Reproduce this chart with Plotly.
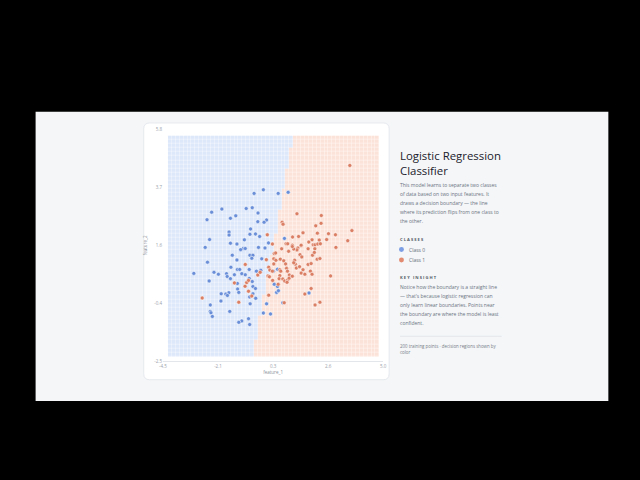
import numpy as np
import plotly.graph_objects as go

# ---------------- data ----------------
class0_x = [-0.17, -0.57, 0.47, 0.90, -1.96, -2.40, -0.91, -0.65, -0.40, -1.36, -1.59, -2.60, -0.03, -0.41,
            -0.14, -0.72, -1.65, -1.65, -0.75, -0.51, -0.33, -2.49, -0.99, -1.59, -1.31, 0.74, -2.68, -0.38,
            -0.10, -1.04, -0.95, -1.15, 0.05, -1.51, -1.31, -0.75, -0.62, -0.67, -0.24, -2.58, -1.57, -1.29,
            -1.19, -0.78, -0.47, -0.28, 0.44, -3.17, -2.30, -2.11, -1.76, -1.73, -1.42, -1.10, -0.95, 0.26,
            -2.51, -1.59, -0.78, -0.65, -1.29, -0.62, -0.51, 0.44, 0.30, -1.28, -1.66, -1.23, -1.99, -1.79,
            -1.72, -0.62, -0.76, 0.40, 0.48, -0.50, 1.80, -2.00, -2.46, -0.74, -0.03, 0.67, -2.46, -2.43,
            -2.37, -1.62, -0.17, 0.14, -0.81, -1.10, -1.23, -0.76]
class0_y = [3.64, 3.51, 3.51, 3.55, 2.95, 2.84, 2.97, 3.00, 2.81, 2.71, 2.62, 2.57, 2.56, 2.50,
            2.48, 2.24, 2.13, 2.02, 2.05, 2.06, 1.97, 1.86, 1.85, 1.73, 1.70, 1.90, 1.58, 1.58,
            1.56, 1.54, 1.54, 1.50, 1.74, 1.30, 1.13, 1.30, 1.30, 1.19, 1.17, 1.05, 0.87, 0.79,
            0.79, 0.79, 0.73, 0.76, 0.80, 0.65, 0.69, 0.62, 0.64, 0.54, 0.60, 0.64, 0.60, 0.73,
            0.38, 0.46, 0.47, 0.36, 0.29, 0.18, 0.11, 0.18, 0.26, 0.09, -0.04, -0.03, -0.08, -0.09,
            -0.14, -0.08, -0.19, -0.03, 0.03, -0.24, -0.05, -0.34, -0.48, -0.44, -0.44, -0.40, -0.71, -0.76,
            -0.89, -0.71, -0.77, -0.80, -0.97, -1.05, -1.10, -1.18]

class1_x = [3.56, 1.28, 2.33, 2.32, 2.09, 0.64, 0.68, 3.65, 1.54, 2.16, 2.64, 2.94, 0.00, 1.35,
            1.09, 1.93, 2.24, 1.79, 2.56, 3.47, 0.22, 0.81, 0.88, 1.08, 1.45, 1.98, 2.06, 2.18,
            2.29, 1.32, 1.28, 0.62, 1.14, 1.76, 2.96, 1.08, 1.46, 2.05, -2.81, -0.95, -1.42, -0.89,
            -0.81, -0.96, -0.81, -0.67, -1.23, -0.41, -0.31, -0.04, 0.06, 0.11, 0.03, 0.22, 0.30, 0.36,
            0.28, 0.37, 0.56, 0.54, 0.54, 0.51, 0.47, 0.58, 0.71, 0.79, 0.92, 0.83, 0.87, 0.95,
            0.67, 0.75, 0.88, 0.94, 1.08, 0.85, 1.18, 1.21, 1.25, 1.39, 1.54, 1.46, 1.62, 1.86,
            1.93, 1.76, 1.89, 1.41, 1.49, 1.95, 2.03, 2.15, 2.27, 2.73, 1.89, 1.62, 0.06, 0.73,
            2.06, 2.27, 0.23, 0.09, 1.14, 0.28]
class1_y = [4.51, 2.78, 2.72, 2.44, 2.35, 2.48, 2.41, 2.18, 2.10, 2.09, 2.07, 2.03, 2.03, 1.97,
            1.95, 1.85, 1.84, 1.77, 1.86, 1.82, 1.70, 1.71, 1.71, 1.66, 1.64, 1.67, 1.67, 1.70,
            1.71, 1.56, 1.49, 1.53, 1.52, 1.53, 1.58, 1.61, 1.66, 1.53, -0.23, 0.97, 0.31, 0.32,
            0.40, 0.19, 0.01, -0.16, -0.38, 0.59, 0.69, 1.14, 0.87, 0.77, 0.56, 0.73, 1.36, 1.38,
            1.17, 1.12, 1.16, 0.78, 0.57, 0.46, 0.26, 0.73, 1.10, 0.99, 1.44, 0.83, 0.73, 0.59,
            0.45, 0.38, 0.41, 0.48, 0.55, 0.33, 1.12, 0.98, 0.84, 0.89, 0.78, 0.66, 0.62, 0.73,
            0.62, 0.97, 1.00, 1.32, 1.24, 1.30, 1.40, 1.16, 1.18, 0.56, 0.11, -0.09, -0.13, -0.40,
            -0.48, -0.38, 0.40, 0.53, 1.03, 0.99]

# fitted logistic-regression model parameters (read from the boundary)
coef_f1 = 1.0
coef_f2 = -0.222
intercept = 0.112

# decision-region grid extent and resolution
grid_x_range = [-4.2, 4.75]
grid_y_range = [-2.25, 5.5]
grid_steps = 54

x_tickvals = [-4.5, -2.125, 0.25, 2.625, 5.0]
x_ticktext = ["-4.5", "-2.1", "0.3", "2.6", "5.0"]
y_tickvals = [-2.5, -0.425, 1.65, 3.725, 5.8]
y_ticktext = ["-2.5", "-0.4", "1.6", "3.7", "5.8"]

BLUE = "#6a8fd8"
RED = "#db7f64"
BLUE_BG = "#dde8fa"
RED_BG = "#fce3d9"

W, H = 640, 480
FONT = "Open Sans"

def px(x):
    return x / W

def py(y):
    return 1 - y / H

# ---------------- figure ----------------
gx = np.linspace(grid_x_range[0], grid_x_range[1], grid_steps)
gy = np.linspace(grid_y_range[0], grid_y_range[1], grid_steps)
GX, GY = np.meshgrid(gx, gy)
prob = 1 / (1 + np.exp(-(coef_f1 * GX + coef_f2 * GY + intercept)))
pred = (prob > 0.5).astype(int)

fig = go.Figure()
fig.add_trace(go.Heatmap(
    x=gx, y=gy, z=pred, zmin=0, zmax=1,
    colorscale=[[0, BLUE_BG], [0.5, BLUE_BG], [0.5, RED_BG], [1, RED_BG]],
    showscale=False, xgap=0.35, ygap=0.35, hoverinfo="skip"))
fig.add_trace(go.Scatter(
    x=class0_x, y=class0_y, mode="markers", name="Class 0",
    marker=dict(size=4, color=BLUE, line=dict(color="white", width=0.5))))
fig.add_trace(go.Scatter(
    x=class1_x, y=class1_y, mode="markers", name="Class 1",
    marker=dict(size=4, color=RED, line=dict(color="white", width=0.5))))

def rounded(x0, y0, x1, y1, r):
    rx, ry = r / W, r / H
    X0, X1 = px(x0), px(x1)
    Y0, Y1 = py(y1), py(y0)  # bottom, top in paper
    return (f"M {X0+rx},{Y1} L {X1-rx},{Y1} Q {X1},{Y1} {X1},{Y1-ry} "
            f"L {X1},{Y0+ry} Q {X1},{Y0} {X1-rx},{Y0} L {X0+rx},{Y0} "
            f"Q {X0},{Y0} {X0},{Y0+ry} L {X0},{Y1-ry} Q {X0},{Y1} {X0+rx},{Y1} Z")

shapes = [
    dict(type="rect", xref="paper", yref="paper", x0=px(32), x1=px(612), y0=py(403), y1=py(110),
         fillcolor="#f4f6f8", line=dict(width=0), layer="below"),
    dict(type="path", xref="paper", yref="paper", path=rounded(141.5, 121.5, 390, 381.5, 6),
         fillcolor="#ffffff", line=dict(color="#e6e9ee", width=1), layer="below"),
    dict(type="line", xref="paper", yref="paper", x0=px(401), x1=px(504), y0=py(337.5), y1=py(337.5),
         line=dict(color="#e3e6ea", width=1)),
    dict(type="circle", xref="paper", yref="paper", x0=px(400), x1=px(405), y0=py(252.2), y1=py(247.2),
         fillcolor="#7c9de3", line=dict(width=0)),
    dict(type="circle", xref="paper", yref="paper", x0=px(400), x1=px(405), y0=py(262.8), y1=py(257.8),
         fillcolor="#e38b71", line=dict(width=0)),
]

annotations = []

def txt(x, y, s, size, color, **kw):
    annotations.append(dict(xref="paper", yref="paper", x=px(x), y=py(y), text=s, showarrow=False,
                            xanchor="left", yanchor="middle", align="left",
                            font=dict(family=FONT, size=size, color=color), **kw))

txt(399, 162, "Logistic Regression<br>Classifier", 11.4, "#1b212b")
desc = ["This model learns to separate two classes",
        "of data based on two input features. It",
        "draws a decision boundary — the line",
        "where its prediction flips from one class to",
        "the other."]
for i, line in enumerate(desc):
    txt(399, 184.5 + 9 * i, line, 5.0, "#6b7380")
txt(399, 239, "<b>C L A S S E S</b>", 4.1, "#545b66")
txt(408, 249.7, "Class 0", 5.0, "#646b76")
txt(408, 260.3, "Class 1", 5.0, "#646b76")
txt(399, 277.5, "<b>K E Y   I N S I G H T</b>", 4.1, "#545b66")
insight = ["Notice how the boundary is a straight line",
           "— that's because logistic regression can",
           "only learn linear boundaries. Points near",
           "the boundary are where the model is least",
           "confident."]
for i, line in enumerate(insight):
    txt(399, 288 + 9.1 * i, line, 5.0, "#6b7380")
txt(399, 347, "200 training points · decision regions shown by", 4.4, "#747b86")
txt(399, 353, "color", 4.4, "#747b86")

fig.update_layout(
    width=W, height=H, margin=dict(l=0, r=0, t=0, b=0),
    paper_bgcolor="#000000", plot_bgcolor="#ffffff",
    showlegend=False, shapes=shapes, annotations=annotations,
    font=dict(family=FONT),
    xaxis=dict(domain=[px(161), px(384)], range=[-4.5, 5.0], tickvals=x_tickvals, ticktext=x_ticktext,
               showgrid=False, zeroline=False, showline=True, linecolor="#e3e6ea", linewidth=1,
               tickfont=dict(size=4.5, color="#9aa1aa"), ticks="", ticklen=0,
               title=dict(text="feature_1", font=dict(size=4.5, color="#8a919a"), standoff=2)),
    yaxis=dict(domain=[py(363), py(128)], range=[-2.5, 5.8], tickvals=y_tickvals, ticktext=y_ticktext,
               showgrid=False, zeroline=False, showline=False,
               tickfont=dict(size=4.5, color="#9aa1aa"), ticks="",
               title=dict(text="feature_2", font=dict(size=4.5, color="#8a919a"), standoff=6)),
)

fig.write_html(
    "out.html",
    config={"displayModeBar": False},
    post_script=("var gd=document.getElementById('{plot_id}');"
                 "gd.style.position='fixed';gd.style.left='0px';gd.style.top='0px';"
                 "document.body.style.margin='0';document.body.style.overflow='hidden';"
                 "document.documentElement.style.overflow='hidden';"))
